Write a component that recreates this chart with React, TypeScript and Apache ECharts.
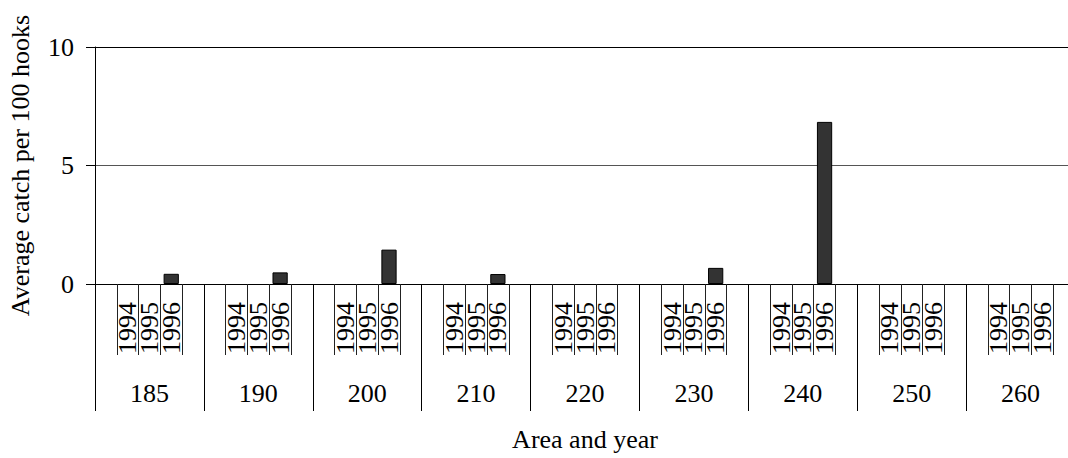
import React, { useEffect, useRef } from "react";
import * as echarts from "echarts";

const areas = ["185", "190", "200", "210", "220", "230", "240", "250", "260"];
const years = ["1994", "1995", "1996"];
const v1994 = [0, 0, 0, 0, 0, 0, 0, 0, 0];
const v1995 = [0, 0, 0, 0, 0, 0, 0, 0, 0];
const v1996 = [0.43, 0.49, 1.45, 0.42, 0, 0.68, 6.84, 0, 0];
const yTicks = [0, 5, 10];

const FONT = "Liberation Serif";

export default function App() {
  const ref = useRef<HTMLDivElement>(null);
  useEffect(() => {
    if (!ref.current) return;
    const chart = echarts.init(ref.current, null, { renderer: "svg" });
    const cats: string[] = [];
    const data: (number | null)[] = [];
    const perYear = [v1994, v1995, v1996];
    areas.forEach((_, i) => {
      cats.push("");
      data.push(null);
      years.forEach((y, j) => {
        cats.push(y);
        const v = perYear[j][i];
        data.push(v === 0 ? null : v);
      });
      cats.push(" ");
      data.push(null);
    });
    chart.setOption({
      animation: false,
      backgroundColor: "#fff",
      textStyle: { fontFamily: FONT, color: "#000" },
      grid: { left: 95, right: -7, top: 47, bottom: 174, containLabel: false, outerBoundsMode: "none" },
      xAxis: [
        {
          type: "category",
          data: cats,
          position: "bottom",
          offset: 0,
          name: "Area and year",
          nameLocation: "middle",
          nameGap: 142,
          nameTextStyle: { fontFamily: FONT, fontSize: 26, color: "#000" },
          axisLine: { show: true, lineStyle: { color: "#000", width: 1 } },
          axisTick: { show: true, interval: 0, length: 71, lineStyle: { color: "#222", width: 1 } },
          axisLabel: {
            interval: 0,
            rotate: 90,
            margin: 18,
            fontFamily: FONT,
            fontSize: 26,
            color: "#000",
          },
          splitLine: { show: false },
        },
        {
          type: "category",
          data: areas,
          position: "bottom",
          offset: 0,
          axisLine: { show: false },
          axisTick: { show: true, interval: 0, length: 127, lineStyle: { color: "#000", width: 1 } },
          axisLabel: {
            interval: 0,
            margin: 96,
            fontFamily: FONT,
            fontSize: 26,
            color: "#000",
          },
          splitLine: { show: false },
        },
      ],
      yAxis: {
        type: "value",
        min: yTicks[0],
        max: yTicks[yTicks.length - 1],
        interval: 5,
        name: "Average catch per 100 hooks",
        nameLocation: "middle",
        nameGap: 62,
        nameTextStyle: { fontFamily: FONT, fontSize: 26, color: "#000" },
        axisLine: { show: true, lineStyle: { color: "#000", width: 1 } },
        axisTick: { show: true, length: 9, lineStyle: { color: "#000" } },
        axisLabel: { margin: 21, fontFamily: FONT, fontSize: 26, color: "#000" },
        splitLine: { show: true, lineStyle: { color: ["#000", "#555", "#000"], width: 1 } },
      },
      series: [
        {
          type: "bar",
          xAxisIndex: 0,
          data,
          barWidth: "70%",
          itemStyle: { color: "#333", borderColor: "#000", borderWidth: 1 },
        },
      ],
    });
    return () => chart.dispose();
  }, []);
  return (
    <div
      ref={ref}
      style={{ position: "fixed", left: 0, top: 0, width: 1068, height: 458, background: "#fff" }}
    />
  );
}
